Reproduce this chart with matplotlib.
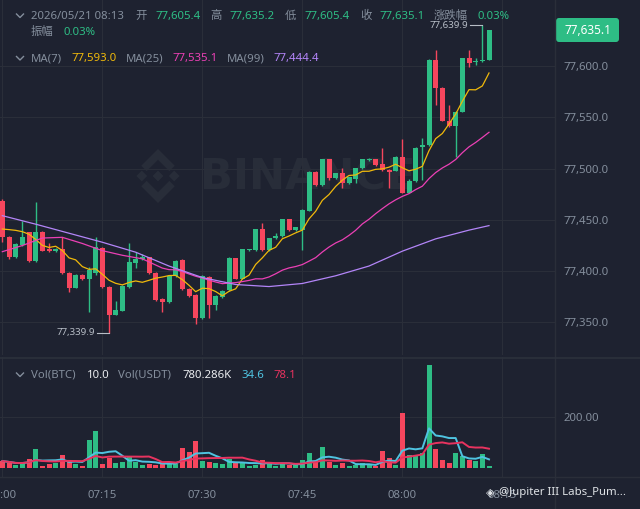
import numpy as np
import pandas as pd
import matplotlib
matplotlib.use("Agg")
import matplotlib.pyplot as plt
from matplotlib.patches import Polygon, FancyBboxPatch

plt.rcParams['font.family'] = ['Noto Sans', 'Noto Sans CJK SC', 'DejaVu Sans']

# BTC/USDT 1m candles, 07:00 .. 08:13
opens = [77468.7, 77433.7, 77413.5, 77425.5, 77437.9, 77409.9, 77438.5, 77421.3, 77419.4, 77421.3,
         77398.6, 77384.0, 77396.3, 77392.4, 77398.5, 77422.9, 77384.9, 77357.6, 77361.5, 77384.3,
         77408.3, 77411.6, 77413.5, 77398.6, 77372.9, 77370.0, 77395.3, 77410.6, 77382.7, 77376.8,
         77354.1, 77394.7, 77367.1, 77374.6, 77381.7, 77412.5, 77392.7, 77420.7, 77420.7, 77440.8,
         77420.7, 77432.0, 77434.0, 77450.6, 77440.2, 77440.2, 77459.0, 77497.0, 77484.0, 77509.0,
         77490.5, 77495.4, 77485.6, 77490.0, 77500.3, 77508.0, 77509.0, 77504.5, 77498.6, 77498.0,
         77511.6, 77476.5, 77488.0, 77521.0, 77523.0, 77605.8, 77578.9, 77546.7, 77541.5, 77555.5,
         77607.5, 77603.5, 77604.5, 77605.4]
highs = [77470.0, 77434.5, 77427.5, 77449.3, 77438.6, 77467.8, 77439.3, 77427.2, 77422.5, 77433.6,
         77399.3, 77397.0, 77397.0, 77403.8, 77433.6, 77423.6, 77385.5, 77371.3, 77386.3, 77427.8,
         77419.0, 77416.8, 77414.2, 77399.3, 77373.6, 77396.3, 77411.0, 77412.0, 77383.4, 77377.5,
         77396.3, 77395.4, 77376.5, 77381.6, 77413.9, 77413.2, 77422.0, 77422.0, 77441.5, 77447.3,
         77432.7, 77437.6, 77451.3, 77451.3, 77443.5, 77460.3, 77497.7, 77497.7, 77509.7, 77509.7,
         77496.1, 77500.3, 77492.2, 77501.0, 77509.7, 77510.2, 77509.7, 77519.8, 77499.3, 77512.3,
         77528.5, 77490.0, 77521.0, 77529.5, 77606.5, 77615.6, 77579.6, 77562.0, 77556.2, 77608.2,
         77615.6, 77607.5, 77639.9, 77635.2]
lows = [77428.8, 77412.0, 77412.8, 77424.8, 77409.0, 77409.2, 77419.2, 77418.8, 77418.9, 77397.0,
        77380.1, 77383.2, 77391.6, 77360.6, 77396.3, 77384.0, 77339.9, 77356.9, 77360.8, 77383.6,
        77402.8, 77410.9, 77397.2, 77371.2, 77359.9, 77369.3, 77394.6, 77382.0, 77375.1, 77348.2,
        77353.4, 77354.1, 77362.0, 77373.9, 77381.0, 77392.0, 77392.0, 77420.0, 77420.0, 77420.0,
        77420.0, 77431.3, 77433.3, 77439.5, 77439.5, 77420.7, 77458.3, 77483.3, 77483.3, 77488.9,
        77489.8, 77480.8, 77484.9, 77485.6, 77499.6, 77507.3, 77502.8, 77497.9, 77480.8, 77497.3,
        77475.8, 77475.8, 77487.3, 77489.0, 77522.3, 77562.0, 77546.0, 77540.8, 77511.6, 77554.8,
        77599.3, 77601.0, 77603.5, 77605.4]
closes = [77433.7, 77413.5, 77426.5, 77433.7, 77409.9, 77438.5, 77420.0, 77419.7, 77421.6, 77397.9,
          77383.3, 77396.3, 77392.4, 77401.2, 77423.4, 77384.3, 77357.3, 77362.2, 77385.6, 77408.6,
          77411.9, 77414.2, 77397.9, 77371.9, 77370.0, 77395.6, 77409.9, 77382.7, 77375.8, 77354.1,
          77395.6, 77367.1, 77375.8, 77381.0, 77413.2, 77392.7, 77421.3, 77421.3, 77440.8, 77420.7,
          77432.0, 77434.3, 77450.6, 77440.2, 77442.8, 77459.6, 77497.0, 77484.0, 77509.0, 77490.5,
          77495.4, 77485.6, 77491.5, 77500.3, 77509.0, 77509.5, 77503.5, 77498.6, 77497.0, 77511.6,
          77476.5, 77488.0, 77520.4, 77523.0, 77605.8, 77578.9, 77546.7, 77541.5, 77555.5, 77607.5,
          77602.6, 77604.5, 77605.4, 77635.1]
volumes = [28.0, 21.7, 12.8, 19.4, 34.9, 73.6, 9.0, 16.7, 21.7, 51.6,
           25.6, 15.5, 9.0, 109.7, 145.9, 15.5, 40.0, 19.4, 23.3, 49.0,
           25.6, 12.8, 15.5, 12.8, 25.6, 23.3, 15.5, 77.5, 64.6, 105.8,
           30.0, 23.0, 19.4, 15.5, 37.0, 21.7, 19.4, 9.0, 12.8, 32.0,
           25.6, 9.0, 16.7, 12.8, 12.8, 32.0, 58.0, 25.6, 83.7, 25.6,
           12.8, 21.7, 9.0, 12.8, 21.7, 12.8, 9.0, 68.0, 38.8, 12.8,
           213.0, 51.6, 51.6, 58.0, 400.0, 75.0, 34.0, 19.4, 58.0, 48.0,
           32.0, 28.0, 55.0, 10.0]

# moving-average values before enough candles are on screen
ma7_head = [77441.1, 77440.5, 77439.8, 77438.5, 77436.0, 77431.0]
ma25_head_idx = [0, 3, 6, 9, 12, 15, 18, 21]
ma25_head = [77419.0, 77425.0, 77432.3, 77433.0, 77427.0, 77420.0, 77415.5, 77412.0]
ma99_idx = [0, 5, 10, 15, 20, 25, 30, 35, 40, 45, 50, 55, 60, 65, 70, 73]
ma99 = [77454.1, 77445.8, 77437.0, 77428.2, 77418.5, 77405.0, 77393.8, 77387.0,
        77385.0, 77388.0, 77395.5, 77405.0, 77419.5, 77431.5, 77440.0, 77444.4]

price_ticks = [77350, 77400, 77450, 77500, 77550, 77600]
vol_ticks = [200]
time_idx = [0, 15, 30, 45, 60, 75]
time_labels = ['07:00', '07:15', '07:30', '07:45', '08:00', '08:15']

W, H = 640, 509
BG = '#1e2230'
GRID = '#2a2e39'
GRAY = '#848e9c'
WHITE = '#eaecef'
GREEN = '#2ebd85'
RED = '#f6465d'
MA7C, MA25C, MA99C = '#f0b90b', '#eb40b5', '#b385f8'
CYAN, VRED = '#4fc3e0', '#e8335f'

fig = plt.figure(figsize=(W / 100, H / 100), dpi=100, facecolor=BG)


def px_axes(z):
    a = fig.add_axes([0, 0, 1, 1])
    a.set_xlim(0, W)
    a.set_ylim(H, 0)
    a.axis('off')
    a.set_zorder(z)
    return a


back = px_axes(0)
ax = fig.add_axes([0, 1 - 355 / H, 555 / W, 355 / H], facecolor='none')
vax = fig.add_axes([0, 1 - 477 / H, 555 / W, 120 / H], facecolor='none')
ax.set_zorder(1)
vax.set_zorder(1)
front = px_axes(2)

# faint binance watermark
lx, ly, s = 158, 176, 27
shapes = [
    [(0, 0.2), (0.2, 0), (0, -0.2), (-0.2, 0)],
    [(0.6, 0.2), (0.8, 0), (0.6, -0.2), (0.4, 0)],
    [(-0.6, 0.2), (-0.4, 0), (-0.6, -0.2), (-0.8, 0)],
    [(0, 1), (0.62, 0.38), (0.42, 0.18), (0, 0.6), (-0.42, 0.18), (-0.62, 0.38)],
    [(0, -1), (0.62, -0.38), (0.42, -0.18), (0, -0.6), (-0.42, -0.18), (-0.62, -0.38)],
]
for pts in shapes:
    back.add_patch(Polygon([(lx + px * s, ly - py * s) for px, py in pts], closed=True,
                           fc='#282d39', ec='none'))
back.text(200, 177, 'BINANCE', color='#282d39', fontsize=31, fontweight='bold',
          family='DejaVu Sans', va='center', ha='left')

x = np.arange(len(closes))
o, h, l, c = (np.array(v) for v in (opens, highs, lows, closes))
cols = np.where(c >= o, GREEN, RED)

# price panel
ax.vlines(x, l, h, colors=cols, lw=1, zorder=2)
ax.bar(x, np.maximum(np.abs(c - o), 0.9), bottom=np.minimum(o, c), width=0.75,
       color=cols, linewidth=0, zorder=2)

cs = pd.Series(closes)
ma7 = cs.rolling(7).mean().to_numpy()
ma7[:6] = ma7_head
ma25 = cs.rolling(25).mean()
ax.plot(x, ma7, color=MA7C, lw=0.9, zorder=3)
ax.plot(ma25_head_idx + list(range(24, len(closes))), ma25_head + list(ma25[24:]),
        color=MA25C, lw=0.9, zorder=3)
ax.plot(ma99_idx, ma99, color=MA99C, lw=0.9, zorder=3)

lo_i = int(np.argmin(l))
hi_i = int(np.argmax(h))
for i, v in ((lo_i, l[lo_i]), (hi_i, h[hi_i])):
    ax.plot([i - 1.8, i], [v, v], color='#b7bdc6', lw=0.8, zorder=4)
    ax.text(i - 2.1, v, f'{v:,.1f}', color='#b7bdc6', fontsize=7, ha='right', va='center', zorder=4)

ax.set_xlim(-0.35, 82.9)
ax.set_ylim(77318.3, 77664.3)
ax.yaxis.tick_right()
ax.set_yticks(price_ticks)
ax.set_yticklabels([f'{v:,.1f}' for v in price_ticks])
ax.set_xticks(time_idx)
ax.tick_params(axis='y', length=0, pad=5.8, labelsize=8.2, labelcolor=GRAY)
ax.tick_params(axis='x', length=0, labelbottom=False)
ax.grid(True, color=GRID, lw=0.8, zorder=0)
for sp in ax.spines.values():
    sp.set_visible(False)

# volume panel
vax.bar(x, volumes, width=0.75, color=cols, linewidth=0, zorder=2)
vs = pd.Series(volumes)
vax.plot(x, vs.rolling(5, min_periods=1).mean(), color=CYAN, lw=1.4, zorder=3)
vax.plot(x, vs.rolling(10, min_periods=1).mean(), color=VRED, lw=1.4, zorder=3)
vax.set_xlim(-0.35, 82.9)
vax.set_ylim(-33.7, 431.4)
vax.yaxis.tick_right()
vax.set_yticks(vol_ticks)
vax.set_yticklabels([f'{v:.2f}' for v in vol_ticks])
vax.set_xticks(time_idx)
vax.set_xticklabels(time_labels)
vax.tick_params(axis='y', length=0, pad=5.8, labelsize=8.2, labelcolor=GRAY)
vax.tick_params(axis='x', length=0, pad=9, labelsize=8.2, labelcolor=GRAY)
vax.grid(True, color=GRID, lw=0.8, zorder=0)
for sp in vax.spines.values():
    sp.set_visible(False)

# panel separators
front.plot([555, 555], [0, H], color=GRID, lw=1)
front.plot([0, W], [358, 358], color='#2c313c', lw=1.2)
front.plot([0, W], [477, 477], color=GRID, lw=1)

# current price tag
front.add_patch(FancyBboxPatch((556, 18), 63, 24, boxstyle='round,pad=0,rounding_size=3',
                               fc=GREEN, ec='none'))
front.text(587.5, 30.5, f'{closes[-1]:,.1f}', color='white', fontsize=8.5, ha='center', va='center')


def chevron(y):
    front.plot([16.5, 20, 23.5], [y - 2, y + 1.5, y - 2], color=GRAY, lw=1)


def put(xp, yp, s, color):
    front.text(xp, yp, s, color=color, fontsize=8.2, ha='left', va='center')


header1 = [(31, '2026/05/21 08:13', GRAY), (135, '开', GRAY), (155, '77,605.4', GREEN),
           (210, '高', GRAY), (229, '77,635.2', GREEN), (285, '低', GRAY), (304, '77,605.4', GREEN),
           (360, '收', GRAY), (379, '77,635.1', GREEN), (434, '涨跌幅', GRAY), (477, '0.03%', GREEN)]
header2 = [(31, '振幅', GRAY), (63, '0.03%', GREEN)]
header3 = [(31, 'MA(7)', GRAY), (71, '77,593.0', MA7C), (126, 'MA(25)', GRAY), (172, '77,535.1', MA25C),
           (227, 'MA(99)', GRAY), (273, '77,444.4', MA99C)]
header_vol = [(31, 'Vol(BTC)', GRAY), (87, '10.0', WHITE), (118, 'Vol(USDT)', GRAY),
              (182, '780.286K', WHITE), (241, '34.6', CYAN), (273, '78.1', VRED)]
for yp, row in ((16, header1), (32.5, header2), (58.5, header3), (375, header_vol)):
    for xp, s, col in row:
        put(xp, yp, s, col)
chevron(16)
chevron(58.5)
chevron(375)

# share watermark bottom right
front.text(490, 493, '◈', color='#dfe2e6', fontsize=8, family='DejaVu Sans', ha='center', va='center')
front.text(499, 493, '@Jupiter III Labs_Pum...', color='#dfe2e6', fontsize=8.2, ha='left', va='center')

fig.savefig('out.png', dpi=100, facecolor=BG)
